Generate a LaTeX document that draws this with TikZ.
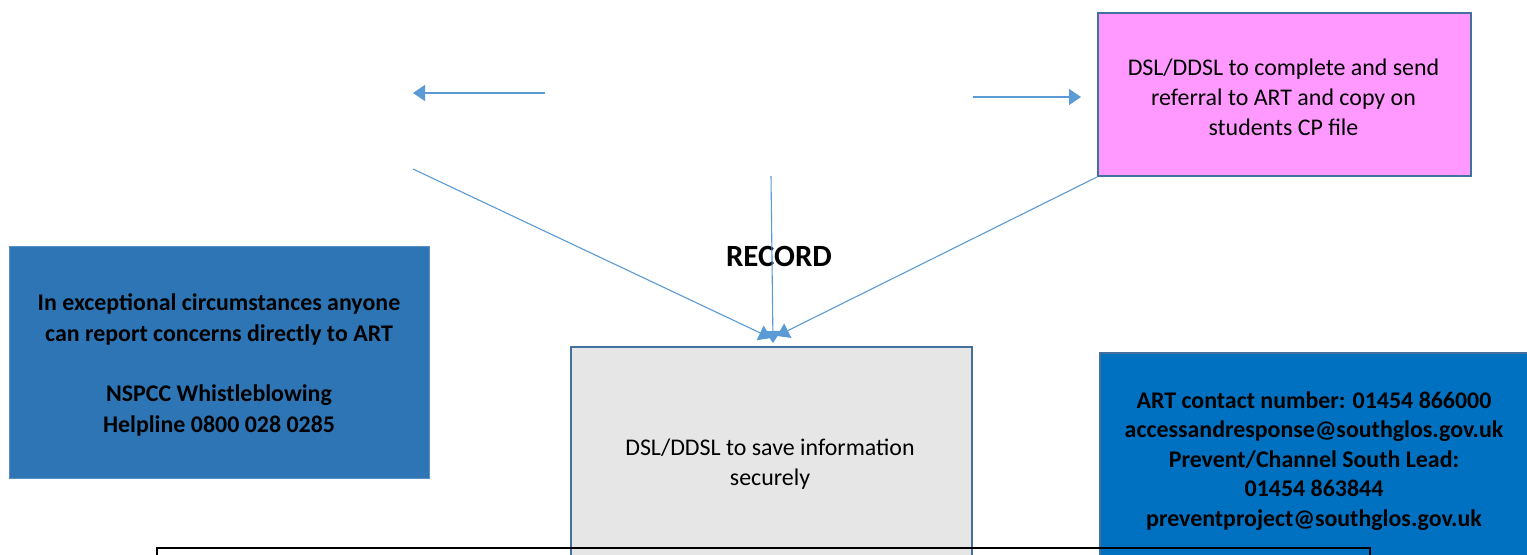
\documentclass[tikz,border=0pt]{standalone}
\usepackage{fontspec}
\setmainfont{Carlito}
\usetikzlibrary{arrows.meta}
\definecolor{conn}{HTML}{5B9BD5}
\definecolor{edgeblue}{HTML}{41719C}
\definecolor{pinkfill}{HTML}{FF99FF}
\definecolor{leftblue}{HTML}{2E75B6}
\definecolor{rightblue}{HTML}{0070C0}
\definecolor{grayfill}{HTML}{E7E6E6}
\tikzset{
  boxbase/.style={rectangle, anchor=north west, inner sep=0pt, align=center, font=\fontsize{24}{30}\selectfont},
  conline/.style={draw=conn, line width=1.1bp, -{Triangle[length=12bp,width=16bp]}},
}
\begin{document}
\begin{tikzpicture}[x=1bp,y=-1bp]
\useasboundingbox (0,0) rectangle (1527,555);
\clip (0,0) rectangle (1527,555);
\fill[white] (0,0) rectangle (1527,555);
% boxes
\node[boxbase, fill=pinkfill, draw=edgeblue, line width=2bp, minimum width=373bp, minimum height=163bp] (pink) at (1097,12) {};
\node[font=\fontsize{24}{30}\selectfont, align=center] (pinktxt) at (1283.5,97)
  {DSL/DDSL to complete and send\\referral to ART and copy on\\students CP file};
\node[boxbase, fill=leftblue, draw=leftblue!80!white, line width=1bp, minimum width=420bp, minimum height=232bp] (left) at (9,246) {};
\node[font=\fontsize{24}{30.5}\selectfont\bfseries, align=center] (lefttxt) at (219,365)
  {In exceptional circumstances anyone\\can report concerns directly to ART\\[30bp]NSPCC Whistleblowing\\Helpline 0800 028 0285};
\node[boxbase, fill=grayfill, draw=edgeblue, line width=2bp, minimum width=401bp, minimum height=260bp] (gray) at (570,346) {};
\node[font=\fontsize{24}{30}\selectfont, align=center] (graytxt) at (770,464) {DSL/DDSL to save information\\securely};
\node[boxbase, fill=rightblue, draw=edgeblue, line width=1.5bp, minimum width=440bp, minimum height=260bp] (right) at (1099,352) {};
\node[font=\fontsize{24}{29.5}\selectfont\bfseries, align=center] (righttxt) at (1314,461)
  {ART contact number: 01454 866000\\accessandresponse@southglos.gov.uk\\Prevent/Channel South Lead:\\01454 863844\\preventproject@southglos.gov.uk};
\node[font=\fontsize{31}{36}\selectfont\bfseries] (record) at (779,256) {RECORD};
% black frame at bottom
\draw[black, line width=2.5bp] (157,600) -- (157,548) -- (1370,548) -- (1370,600);
% connectors
\coordinate (la) at (545,93);
\coordinate (lb) at (413,93);
\coordinate (ra) at (973,97);
\coordinate (rb) at (1081,97);
\coordinate (s1) at (413,169);
\coordinate (s2) at (771,176);
\coordinate (t1) at (771,338);
\coordinate (t2) at (773,343);
\coordinate (t3) at (777,336);
\draw[conline] (la) -- (lb);
\draw[conline] (ra) -- (rb);
\draw[conline] (s1) -- (t1);
\draw[conline] (s2) -- (t2);
\draw[conline] (pink.south west) -- (t3);
\end{tikzpicture}
\end{document}
